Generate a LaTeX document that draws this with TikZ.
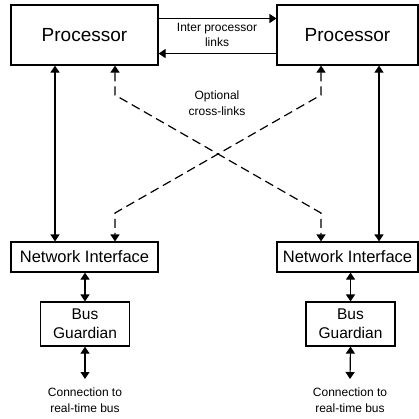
\documentclass[tikz,border=0pt]{standalone}
\usepackage{fontspec}
\setmainfont{Liberation Sans}
\usetikzlibrary{arrows.meta}
\begin{document}
\begin{tikzpicture}[x=1pt,y=-1pt,
  box/.style={draw,line width=1.2pt,inner sep=0pt,align=center},
  conn/.style={line width=1.2pt,{Triangle[length=7pt,width=9pt]}-{Triangle[length=7pt,width=9pt]}},
  oneway/.style={line width=1.2pt,-{Triangle[length=7pt,width=9pt]}},
  dashconn/.style={conn,dash pattern=on 9pt off 5pt},
  small/.style={align=center,font=\fontsize{12}{15.5}\selectfont,inner sep=0pt}]
\useasboundingbox (0,0) rectangle (419,418);
% boxes
\node[box,minimum width=147pt,minimum height=60pt,font=\fontsize{19}{22}\selectfont] (P1) at (84.5,35) {Processor};
\node[box,minimum width=141pt,minimum height=60pt,font=\fontsize{19}{22}\selectfont] (P2) at (347.5,35) {Processor};
\node[box,minimum width=147pt,minimum height=30pt,font=\fontsize{16.5}{19}\selectfont] (NI1) at (84.5,257) {Network Interface};
\node[box,minimum width=141pt,minimum height=30pt,font=\fontsize{16.5}{19}\selectfont] (NI2) at (347.5,257) {Network Interface};
\node[box,minimum width=89pt,minimum height=44pt,font=\fontsize{15.5}{19}\selectfont] (BG1) at (85,324) {Bus\\Guardian};
\node[box,minimum width=89pt,minimum height=44pt,font=\fontsize{15.5}{19}\selectfont] (BG2) at (350.5,324) {Bus\\Guardian};
% labels
\node[small] (L1) at (217,35) {Inter processor\\links};
\node[small] (L2) at (217,103) {Optional\\cross-links};
\node[small] (C1) at (85,400) {Connection to\\real-time bus};
\node[small] (C2) at (350,400) {Connection to\\real-time bus};
% helper coordinates
\coordinate (xa) at (55,0);
\coordinate (xb) at (115,0);
\coordinate (xc) at (321,0);
\coordinate (xd) at (379,0);
\coordinate (ya) at (0,18.5);
\coordinate (yb) at (0,53.5);
\coordinate (k1) at (115,95);
\coordinate (k2) at (321,213);
\coordinate (k3) at (321,95);
\coordinate (k4) at (115,213);
\coordinate (e1) at (85,379);
\coordinate (e2) at (350,379);
% inter processor links
\draw[oneway] (P1.east |- ya) -- (P2.west |- ya);
\draw[oneway] (P2.west |- yb) -- (P1.east |- yb);
% vertical solid links
\draw[conn] (P1.south -| xa) -- (NI1.north -| xa);
\draw[conn] (P2.south -| xd) -- (NI2.north -| xd);
% dashed cross links
\draw[dashconn] (P1.south -| xb) -- (k1) -- (k2) -- (NI2.north -| xc);
\draw[dashconn] (P2.south -| xc) -- (k3) -- (k4) -- (NI1.north -| xb);
% NI to BG
\draw[conn] (NI1.south -| BG1.north) -- (BG1.north);
\draw[conn] (NI2.south -| BG2.north) -- (BG2.north);
% BG to bus
\draw[conn] (BG1.south) -- (e1);
\draw[conn] (BG2.south) -- (e2);
\end{tikzpicture}
\end{document}
